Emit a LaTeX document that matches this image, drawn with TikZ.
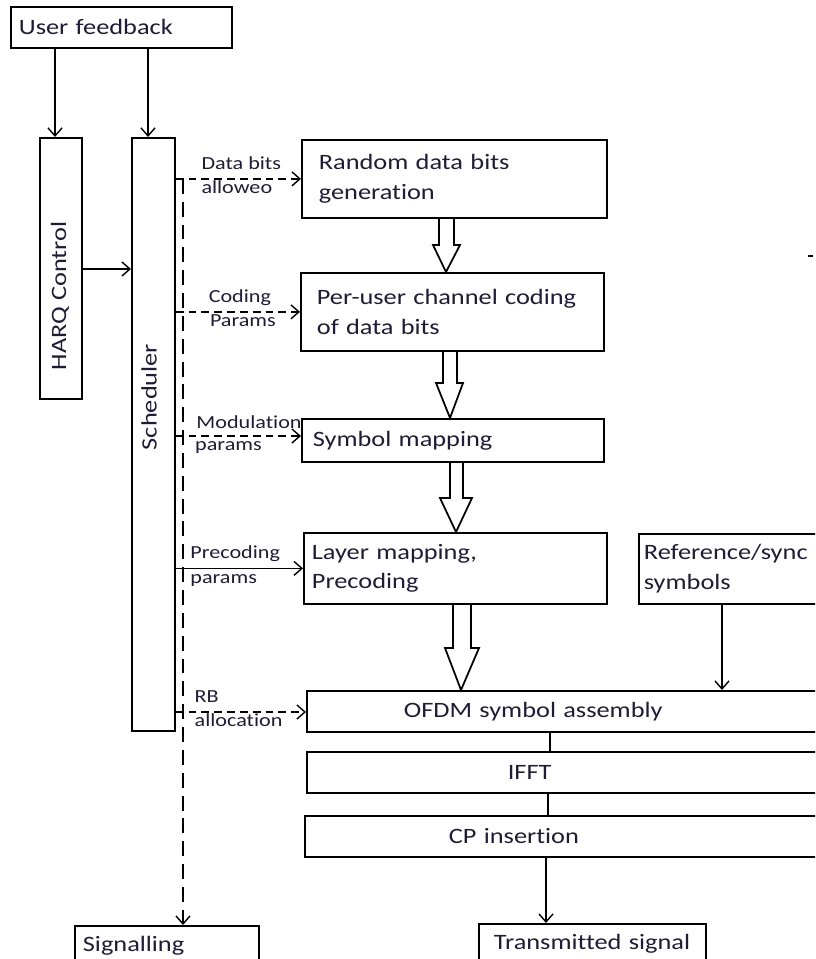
\documentclass[tikz,border=0pt]{standalone}
\usepackage{fontspec}
\setmainfont{Carlito}[FakeStretch=1.2,Ligatures=NoCommon]
\usetikzlibrary{arrows.meta}
\definecolor{ink}{RGB}{30,28,58}

\begin{document}
\begin{tikzpicture}[x=0.02cm,y=-0.02cm,
    font=\fontsize{12.5}{17}\selectfont,text=ink,
    box/.style={draw,line width=1pt,anchor=north west,align=left,inner ysep=0pt},
    lbl/.style={font=\fontsize{10.5}{12}\selectfont,inner sep=0pt,anchor=base west},
    up/.style={lbl,yshift=5.5pt},
    dn/.style={lbl,yshift=-8.5pt},
    con/.style={line width=0.8pt,-{Straight Barb[length=1.6mm,width=2.8mm]}},
    ctl/.style={con,dash pattern=on 4.5pt off 2.8pt},
    sig/.style={line width=0.8pt,dash pattern=on 8.5pt off 4.5pt,-{Straight Barb[length=1.6mm,width=2.8mm]}},
    fat/.style={line width=1pt}]
      \clip (0,0) rectangle (815,959);

      % control side
      \node[box,text width=4.10cm,inner xsep=0.16cm,minimum height=0.82cm] (feedback) at (10,6) {User feedback};
      \node[box,minimum width=0.84cm,minimum height=5.22cm] (harq) at (39,137) {};
      \node[rotate=90] (harqtxt) at (60,296) {HARQ Control};
      \node[box,minimum width=0.86cm,minimum height=11.86cm] (sched) at (131,137) {};
      \node[rotate=90] (schedtxt) at (149,397) {Scheduler};

      % transmit chain
      \node[box,text width=5.42cm,inner xsep=0.34cm,minimum height=1.56cm] (rand) at (301,139) {Random data bits\\generation};
      \node[box,text width=5.42cm,inner xsep=0.32cm,minimum height=1.56cm] (code) at (300,272) {Per-user channel coding\\of data bits};
      \node[box,text width=5.60cm,inner xsep=0.22cm,minimum height=0.86cm] (sym) at (301,418) {Symbol mapping};
      \node[box,text width=5.74cm,inner xsep=0.16cm,minimum height=1.42cm] (layer) at (303,532) {Layer mapping,\\Precoding};
      \node[box,text width=3.64cm,inner xsep=0.10cm,minimum height=1.40cm] (ref) at (638,533) {Reference/sync\\symbols};
      \node[box,text width=6.60cm,inner xsep=1.94cm,minimum height=0.82cm] (ofdm) at (306,690) {OFDM symbol assembly};
      \node[box,text width=2.44cm,inner xsep=4.02cm,minimum height=0.82cm] (ifft) at (306,751) {IFFT};
      \node[box,text width=4.76cm,inner xsep=2.88cm,minimum height=0.82cm] (cp) at (304,815) {CP insertion};
      \node[box,text width=3.94cm,inner xsep=0.30cm,minimum height=0.80cm] (tx) at (478,923) {Transmitted signal};
      \node[box,text width=3.36cm,inner xsep=0.16cm,minimum height=0.80cm] (sig) at (74,925) {Signalling};

      \draw[con] (55,0 |- feedback.south) -- (55,0 |- harq.north);
      \draw[con] (148,0 |- feedback.south) -- (148,0 |- sched.north);
      \draw[con] (harq.east |- 0,269) -- (sched.west |- 0,269);

      % parameters handed out by the scheduler
      \draw[ctl] (sched.east |- rand.west) -- (rand.west)
          node[up,pos=.2] {Data bits}
          node[dn,pos=.2] {alloweo};
      \draw[ctl] (sched.east |- code.west) -- (code.west)
          node[up,pos=.26] {Coding}
          node[dn,pos=.27] {Params};
      \draw[ctl] (sched.east |- 0,436) -- (sym.west |- 0,436)
          node[up,pos=.16,yshift=-1pt] {Modulation}
          node[dn,pos=.15] {params};
      \draw[con] (sched.east |- layer.west) -- (layer.west)
          node[up,pos=.11] {Precoding}
          node[dn,pos=.11] {params};
      \draw[ctl] (sched.east |- 0,712) -- (ofdm.west |- 0,712)
          node[up,pos=.14] {RB}
          node[dn,pos=.14] {allocation};
      \draw[sig] (183,0 |- rand.west) -- (183,0 |- sig.north);

      % hollow arrows between the stages
      \draw[fat] (439,0 |- rand.south) -- (439,245) -- (433,245) -- (446,0 |- code.north) -- (460,245) -- (454,245) -- (454,0 |- rand.south);
      \draw[fat] (443,0 |- code.south) -- (443,383) -- (436,383) -- (450,0 |- sym.north) -- (463,383) -- (457,383) -- (457,0 |- code.south);
      \draw[fat] (450,0 |- sym.south) -- (450,498) -- (440,498) -- (456,0 |- layer.north) -- (472,498) -- (463,498) -- (463,0 |- sym.south);
      \draw[fat] (453,0 |- layer.south) -- (453,648) -- (445,648) -- (461,0 |- ofdm.north) -- (479,648) -- (471,648) -- (471,0 |- layer.south);

      \draw[con] (722,0 |- ref.south) -- (722,0 |- ofdm.north);
      \draw[line width=0.8pt] (550,0 |- ofdm.south) -- (550,0 |- ifft.north);
      \draw[line width=0.8pt] (548,0 |- ifft.south) -- (548,0 |- cp.north);
      \draw[con] (546,0 |- cp.south) -- (546,0 |- tx.north);

      \draw[line width=1pt] (808,256) -- (813,256);
\end{tikzpicture}
\end{document}
